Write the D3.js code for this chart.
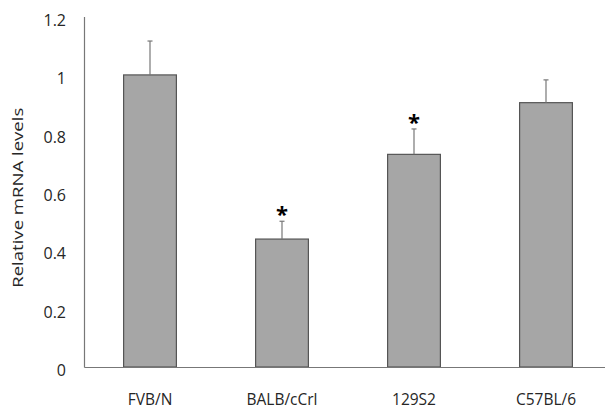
<!DOCTYPE html>
<html><head><meta charset="utf-8">
<script src="https://cdn.jsdelivr.net/npm/d3@7"></script>
<style>
body{margin:0;background:#fff;}
text{font-family:'Open Sans',sans-serif;fill:#262626;}
</style></head>
<body><svg id="chart"></svg>
<script>
const strains=['FVB/N','BALB/cCrl','129S2','C57BL/6'];
const levels=[1.0,0.438,0.728,0.905];
const errors=[0.116,0.061,0.087,0.078];
const marked=[false,true,true,false];
const yTicks=[0,0.2,0.4,0.6,0.8,1,1.2];

const width=605,height=412;
const margin={top:16.5,right:-7,bottom:45,left:84};
const svg=d3.select('#chart').attr('width',width).attr('height',height);

const x=d3.scaleBand().domain(strains)
  .range([margin.left,width-margin.right])
  .paddingInner(0.6).paddingOuter(0.3);
const y=d3.scaleLinear().domain([0,1.2])
  .range([height-margin.bottom,margin.top]);

// y axis
const yAxis=svg.append('g').attr('transform',`translate(${margin.left},0)`)
  .call(d3.axisLeft(y).tickValues(yTicks).tickSize(0).tickPadding(18)
    .tickFormat(d3.format('')));
yAxis.select('.domain').attr('stroke','#777').attr('stroke-width',1.2);
yAxis.selectAll('text').style('font-size','16px').attr('dy','0.55em');

svg.append('text')
  .attr('transform',`translate(23,${(y(0)+y(1.2))/2+6}) rotate(-90)`)
  .attr('text-anchor','middle').style('font-size','15px')
  .attr('textLength',180).attr('lengthAdjust','spacingAndGlyphs')
  .text('Relative mRNA levels');

// bars
svg.selectAll('rect.bar').data(strains).join('rect')
  .attr('class','bar')
  .attr('x',d=>x(d)).attr('width',x.bandwidth())
  .attr('y',(d,i)=>y(levels[i])).attr('height',(d,i)=>y(0)-y(levels[i]))
  .attr('fill','#a6a6a6').attr('stroke','#555').attr('stroke-width',1.2);

// error bars
const eb=svg.selectAll('g.err').data(strains).join('g').attr('class','err');
eb.append('line')
  .attr('x1',d=>x(d)+x.bandwidth()/2).attr('x2',d=>x(d)+x.bandwidth()/2)
  .attr('y1',(d,i)=>y(levels[i])).attr('y2',(d,i)=>y(levels[i]+errors[i]))
  .attr('stroke','#777').attr('stroke-width',1.2);
eb.append('line')
  .attr('x1',d=>x(d)+x.bandwidth()/2-2.5).attr('x2',d=>x(d)+x.bandwidth()/2+2.5)
  .attr('y1',(d,i)=>y(levels[i]+errors[i])).attr('y2',(d,i)=>y(levels[i]+errors[i]))
  .attr('stroke','#777').attr('stroke-width',1.2);

// significance stars
svg.selectAll('text.star').data(strains.filter((d,i)=>marked[i])).join('text')
  .attr('class','star')
  .attr('x',d=>x(d)+x.bandwidth()/2)
  .attr('y',d=>{const i=strains.indexOf(d);return y(levels[i]+errors[i])+1;})
  .attr('text-anchor','middle').style('font-size','22px').style('font-weight','bold')
  .style('fill','#000').text('*');

// x axis
const xAxis=svg.append('g').attr('transform',`translate(0,${y(0)})`)
  .call(d3.axisBottom(x).tickSize(0).tickPadding(27));
xAxis.select('.domain').attr('stroke','#777').attr('stroke-width',1.2);
xAxis.selectAll('text').style('font-size','15.5px');
</script></body></html>
